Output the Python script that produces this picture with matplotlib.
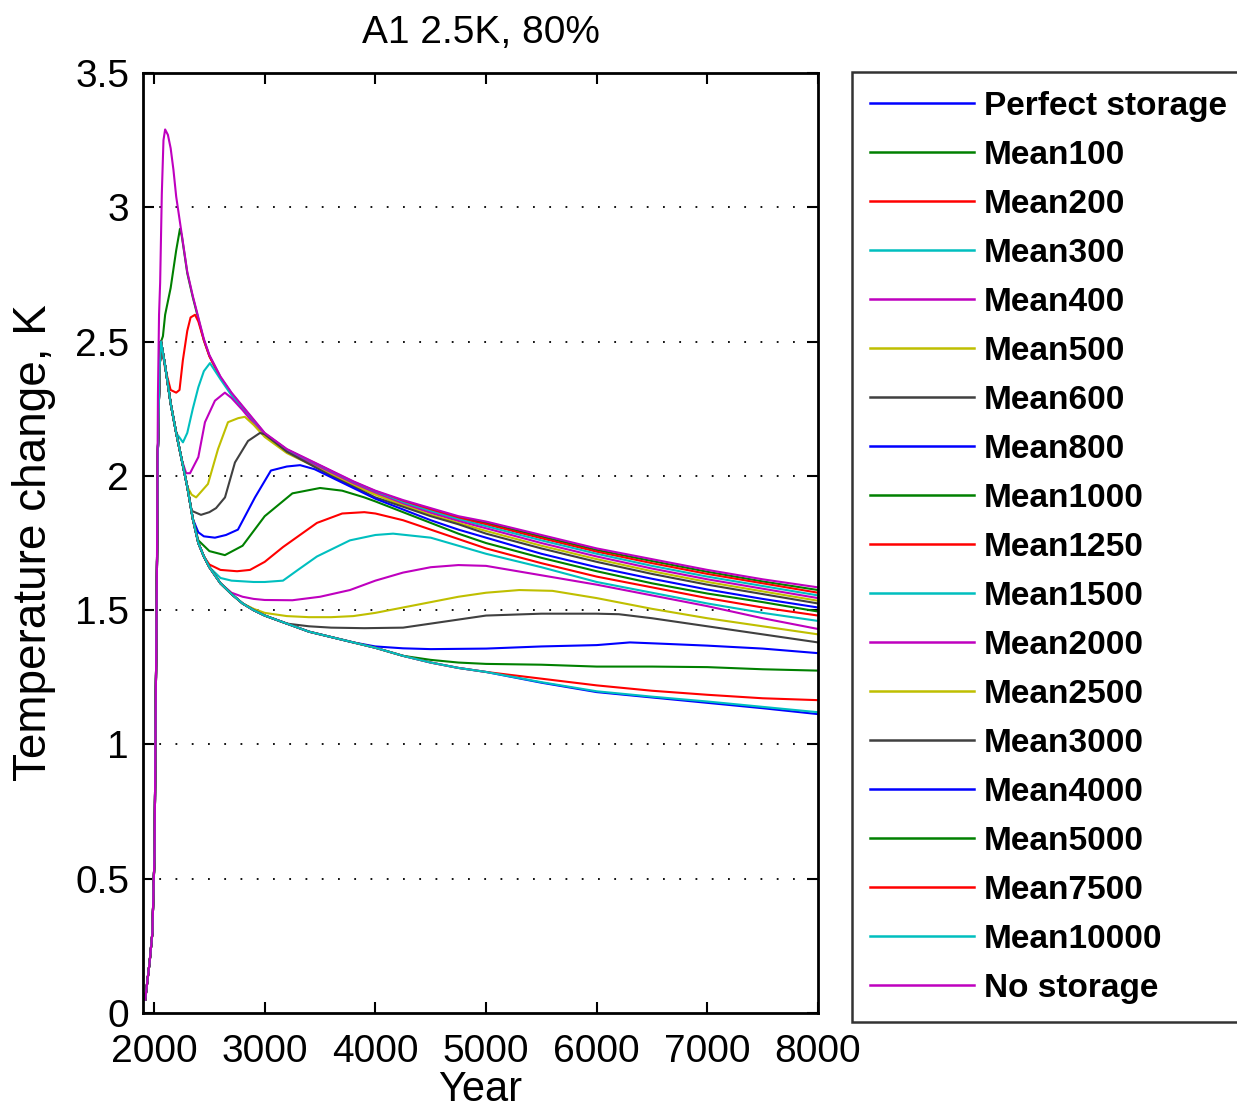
import matplotlib
matplotlib.use("Agg")
import matplotlib.pyplot as plt
from matplotlib.ticker import FuncFormatter

plt.rcParams['font.family'] = ['Liberation Sans', 'DejaVu Sans']

# ---- data (year, temperature change in K) ----
perfect_years = [1920, 1960, 1985, 1995, 2005, 2012, 2025, 2035, 2050, 2063, 2100, 2150, 2200, 2250, 2300,
                 2350, 2400, 2450, 2500, 2600, 2700, 2800, 2900, 3000, 3200, 3400, 3600, 3800, 4000, 4250,
                 4500, 4750, 5000, 5500, 6000, 6500, 7000, 7500, 8000]
perfect_temp = [0.05, 0.19, 0.30, 0.46, 0.60, 1.00, 1.60, 2.10, 2.40, 2.50, 2.41, 2.27, 2.16, 2.06, 1.96,
                1.84, 1.75, 1.70, 1.66, 1.60, 1.56, 1.525, 1.50, 1.48, 1.45, 1.42, 1.40, 1.38, 1.36, 1.33,
                1.305, 1.285, 1.27, 1.23, 1.195, 1.175, 1.155, 1.135, 1.113]

mean100_years = [1920, 1960, 1985, 1995, 2005, 2012, 2025, 2035, 2050, 2063, 2080, 2100, 2150, 2200, 2234,
                 2250, 2300, 2350, 2400, 2450, 2500, 2600, 2700, 2800, 2900, 3000, 3200, 3400, 3600, 3800,
                 4000, 4250, 4500, 4750, 5000, 5500, 6000, 6500, 7000, 7500, 8000]
mean100_temp = [0.05, 0.19, 0.30, 0.46, 0.60, 1.00, 1.60, 2.10, 2.40, 2.50, 2.52, 2.60, 2.70, 2.84, 2.92,
                2.895, 2.755, 2.665, 2.585, 2.505, 2.447, 2.367, 2.307, 2.257, 2.207, 2.158, 2.098, 2.058,
                2.018, 1.978, 1.943, 1.907, 1.877, 1.847, 1.825, 1.774, 1.724, 1.683, 1.643, 1.607, 1.575]

mean200_years = [1920, 1960, 1985, 1995, 2005, 2012, 2025, 2035, 2050, 2063, 2100, 2150, 2200, 2230, 2260,
                 2300, 2330, 2370, 2400, 2450, 2500, 2600, 2700, 2800, 2900, 3000, 3200, 3400, 3600, 3800,
                 4000, 4250, 4500, 4750, 5000, 5500, 6000, 6500, 7000, 7500, 8000]
mean200_temp = [0.05, 0.19, 0.30, 0.46, 0.60, 1.00, 1.60, 2.10, 2.40, 2.50, 2.40, 2.32, 2.31, 2.32, 2.43,
                2.54, 2.59, 2.60, 2.575, 2.505, 2.445, 2.365, 2.305, 2.255, 2.205, 2.157, 2.097, 2.056,
                2.016, 1.976, 1.941, 1.904, 1.873, 1.843, 1.82, 1.768, 1.718, 1.675, 1.635, 1.60, 1.565]

mean300_years = [1920, 1960, 1985, 1995, 2005, 2012, 2025, 2035, 2050, 2063, 2100, 2150, 2200, 2261, 2300,
                 2350, 2400, 2450, 2505, 2600, 2700, 2800, 2900, 3000, 3200, 3400, 3600, 3800, 4000, 4250,
                 4500, 4750, 5000, 5500, 6000, 6500, 7000, 7500, 8000]
mean300_temp = [0.05, 0.19, 0.30, 0.46, 0.60, 1.00, 1.60, 2.10, 2.40, 2.50, 2.41, 2.27, 2.16, 2.125, 2.16,
                2.25, 2.33, 2.39, 2.42, 2.36, 2.30, 2.25, 2.20, 2.155, 2.095, 2.053, 2.013, 1.973, 1.938,
                1.90, 1.868, 1.838, 1.813, 1.76, 1.71, 1.665, 1.625, 1.59, 1.555]

mean400_years = [1920, 1960, 1985, 1995, 2005, 2012, 2025, 2035, 2050, 2063, 2100, 2150, 2200, 2250, 2290,
                 2325, 2400, 2460, 2550, 2640, 2700, 2800, 2900, 3000, 3200, 3400, 3600, 3800, 4000, 4250,
                 4500, 4750, 5000, 5500, 6000, 6500, 7000, 7500, 8000]
mean400_temp = [0.05, 0.19, 0.30, 0.46, 0.60, 1.00, 1.60, 2.10, 2.40, 2.50, 2.41, 2.27, 2.16, 2.06, 2.01,
                2.01, 2.07, 2.20, 2.28, 2.31, 2.29, 2.245, 2.195, 2.15, 2.09, 2.05, 2.01, 1.97, 1.935,
                1.895, 1.862, 1.832, 1.805, 1.75, 1.70, 1.655, 1.615, 1.58, 1.545]

mean500_years = [1920, 1960, 1985, 1995, 2005, 2012, 2025, 2035, 2050, 2063, 2100, 2150, 2200, 2250, 2300,
                 2340, 2380, 2487, 2578, 2668, 2760, 2820, 2900, 3000, 3200, 3400, 3600, 3800, 4000, 4250,
                 4500, 4750, 5000, 5500, 6000, 6500, 7000, 7500, 8000]
mean500_temp = [0.05, 0.19, 0.30, 0.46, 0.60, 1.00, 1.60, 2.10, 2.40, 2.50, 2.41, 2.27, 2.16, 2.06, 1.96,
                1.93, 1.92, 1.97, 2.10, 2.20, 2.215, 2.22, 2.19, 2.145, 2.085, 2.045, 2.005, 1.965, 1.93,
                1.89, 1.855, 1.825, 1.795, 1.74, 1.69, 1.645, 1.605, 1.57, 1.535]

mean600_years = [1920, 1960, 1985, 1995, 2005, 2012, 2025, 2035, 2050, 2063, 2100, 2150, 2200, 2250, 2300,
                 2340, 2424, 2500, 2560, 2641, 2731, 2849, 2957, 3000, 3200, 3400, 3600, 3800, 4000, 4250,
                 4500, 4750, 5000, 5500, 6000, 6500, 7000, 7500, 8000]
mean600_temp = [0.05, 0.19, 0.30, 0.46, 0.60, 1.00, 1.60, 2.10, 2.40, 2.50, 2.41, 2.27, 2.16, 2.06, 1.96,
                1.87, 1.855, 1.865, 1.88, 1.92, 2.05, 2.13, 2.16, 2.155, 2.09, 2.045, 2.00, 1.96, 1.92,
                1.885, 1.85, 1.82, 1.785, 1.73, 1.68, 1.635, 1.595, 1.56, 1.525]

mean800_years = [1920, 1960, 1985, 1995, 2005, 2012, 2025, 2035, 2050, 2063, 2100, 2150, 2200, 2250, 2300,
                 2350, 2400, 2450, 2550, 2650, 2758, 2912, 3056, 3200, 3320, 3450, 3600, 3800, 4000, 4250,
                 4500, 4750, 5000, 5500, 6000, 6500, 7000, 7500, 8000]
mean800_temp = [0.05, 0.19, 0.30, 0.46, 0.60, 1.00, 1.60, 2.10, 2.40, 2.50, 2.41, 2.27, 2.16, 2.06, 1.96,
                1.84, 1.79, 1.775, 1.77, 1.78, 1.80, 1.92, 2.02, 2.035, 2.04, 2.025, 1.995, 1.955, 1.915,
                1.875, 1.835, 1.80, 1.77, 1.71, 1.66, 1.617, 1.577, 1.542, 1.51]

mean1000_years = [1920, 1960, 1985, 1995, 2005, 2012, 2025, 2035, 2050, 2063, 2100, 2150, 2200, 2250, 2300,
                  2350, 2400, 2500, 2640, 2800, 3000, 3250, 3500, 3700, 3900, 4000, 4250, 4500, 4750, 5000,
                  5500, 6000, 6500, 7000, 7500, 8000]
mean1000_temp = [0.05, 0.19, 0.30, 0.46, 0.60, 1.00, 1.60, 2.10, 2.40, 2.50, 2.41, 2.27, 2.16, 2.06, 1.96,
                 1.84, 1.76, 1.72, 1.705, 1.74, 1.85, 1.935, 1.955, 1.945, 1.92, 1.905, 1.865, 1.825, 1.785,
                 1.75, 1.695, 1.645, 1.60, 1.562, 1.53, 1.495]

mean1250_years = [1920, 1960, 1985, 1995, 2005, 2012, 2025, 2035, 2050, 2063, 2100, 2150, 2200, 2250, 2300,
                  2350, 2400, 2450, 2500, 2600, 2750, 2867, 3000, 3165, 3472, 3700, 3900, 4000, 4250, 4500,
                  4750, 5000, 5500, 6000, 6500, 7000, 7500, 8000]
mean1250_temp = [0.05, 0.19, 0.30, 0.46, 0.60, 1.00, 1.60, 2.10, 2.40, 2.50, 2.41, 2.27, 2.16, 2.06, 1.96,
                 1.84, 1.75, 1.70, 1.67, 1.65, 1.645, 1.65, 1.68, 1.735, 1.825, 1.86, 1.865, 1.86, 1.835,
                 1.80, 1.765, 1.73, 1.675, 1.625, 1.585, 1.545, 1.51, 1.48]

mean1500_years = [1920, 1960, 1985, 1995, 2005, 2012, 2025, 2035, 2050, 2063, 2100, 2150, 2200, 2250, 2300,
                  2350, 2400, 2450, 2500, 2600, 2700, 2900, 3000, 3165, 3300, 3472, 3770, 4000, 4160, 4500,
                  5000, 5500, 6000, 6500, 7000, 7500, 8000]
mean1500_temp = [0.05, 0.19, 0.30, 0.46, 0.60, 1.00, 1.60, 2.10, 2.40, 2.50, 2.41, 2.27, 2.16, 2.06, 1.96,
                 1.84, 1.75, 1.70, 1.66, 1.62, 1.61, 1.605, 1.605, 1.61, 1.65, 1.70, 1.76, 1.78, 1.785, 1.77,
                 1.71, 1.66, 1.605, 1.565, 1.525, 1.49, 1.46]

mean2000_years = [1920, 1960, 1985, 1995, 2005, 2012, 2025, 2035, 2050, 2063, 2100, 2150, 2200, 2250, 2300,
                  2350, 2400, 2450, 2500, 2600, 2700, 2800, 2900, 3000, 3250, 3500, 3770, 4000, 4250, 4500,
                  4750, 5000, 5500, 6000, 6500, 7000, 7500, 8000]
mean2000_temp = [0.05, 0.19, 0.30, 0.46, 0.60, 1.00, 1.60, 2.10, 2.40, 2.50, 2.41, 2.27, 2.16, 2.06, 1.96,
                 1.84, 1.75, 1.70, 1.66, 1.60, 1.565, 1.55, 1.542, 1.538, 1.537, 1.55, 1.575, 1.61, 1.64,
                 1.66, 1.668, 1.665, 1.63, 1.595, 1.555, 1.515, 1.47, 1.43]

mean2500_years = [1920, 1960, 1985, 1995, 2005, 2012, 2025, 2035, 2050, 2063, 2100, 2150, 2200, 2250, 2300,
                  2350, 2400, 2450, 2500, 2600, 2700, 2800, 2900, 3000, 3200, 3400, 3600, 3800, 4000, 4250,
                  4500, 4750, 5000, 5300, 5600, 6000, 6500, 7000, 7500, 8000]
mean2500_temp = [0.05, 0.19, 0.30, 0.46, 0.60, 1.00, 1.60, 2.10, 2.40, 2.50, 2.41, 2.27, 2.16, 2.06, 1.96,
                 1.84, 1.75, 1.70, 1.66, 1.60, 1.56, 1.525, 1.505, 1.49, 1.478, 1.474, 1.474, 1.478, 1.49,
                 1.51, 1.53, 1.55, 1.565, 1.575, 1.572, 1.545, 1.505, 1.47, 1.44, 1.41]

mean3000_years = [1920, 1960, 1985, 1995, 2005, 2012, 2025, 2035, 2050, 2063, 2100, 2150, 2200, 2250, 2300,
                  2350, 2400, 2450, 2500, 2600, 2700, 2800, 2900, 3000, 3200, 3400, 3600, 3900, 4250, 4500,
                  5000, 5500, 6000, 6200, 6500, 7000, 7500, 8000]
mean3000_temp = [0.05, 0.19, 0.30, 0.46, 0.60, 1.00, 1.60, 2.10, 2.40, 2.50, 2.41, 2.27, 2.16, 2.06, 1.96,
                 1.84, 1.75, 1.70, 1.66, 1.60, 1.56, 1.525, 1.50, 1.48, 1.45, 1.44, 1.435, 1.433, 1.435,
                 1.45, 1.48, 1.487, 1.487, 1.485, 1.47, 1.44, 1.41, 1.38]

mean4000_years = [1920, 1960, 1985, 1995, 2005, 2012, 2025, 2035, 2050, 2063, 2100, 2150, 2200, 2250, 2300,
                  2350, 2400, 2450, 2500, 2600, 2700, 2800, 2900, 3000, 3200, 3400, 3600, 3800, 4000, 4250,
                  4500, 5000, 5500, 6000, 6300, 6600, 7000, 7500, 8000]
mean4000_temp = [0.05, 0.19, 0.30, 0.46, 0.60, 1.00, 1.60, 2.10, 2.40, 2.50, 2.41, 2.27, 2.16, 2.06, 1.96,
                 1.84, 1.75, 1.70, 1.66, 1.60, 1.56, 1.525, 1.50, 1.48, 1.45, 1.42, 1.40, 1.38, 1.365,
                 1.358, 1.355, 1.357, 1.365, 1.37, 1.38, 1.375, 1.368, 1.357, 1.34]

mean5000_years = [1920, 1960, 1985, 1995, 2005, 2012, 2025, 2035, 2050, 2063, 2100, 2150, 2200, 2250, 2300,
                  2350, 2400, 2450, 2500, 2600, 2700, 2800, 2900, 3000, 3200, 3400, 3600, 3800, 4000, 4250,
                  4500, 4750, 5000, 5500, 6000, 6500, 7000, 7500, 8000]
mean5000_temp = [0.05, 0.19, 0.30, 0.46, 0.60, 1.00, 1.60, 2.10, 2.40, 2.50, 2.41, 2.27, 2.16, 2.06, 1.96,
                 1.84, 1.75, 1.70, 1.66, 1.60, 1.56, 1.525, 1.50, 1.48, 1.45, 1.42, 1.40, 1.38, 1.36, 1.33,
                 1.315, 1.305, 1.30, 1.297, 1.29, 1.29, 1.288, 1.28, 1.275]

mean7500_years = [1920, 1960, 1985, 1995, 2005, 2012, 2025, 2035, 2050, 2063, 2100, 2150, 2200, 2250, 2300,
                  2350, 2400, 2450, 2500, 2600, 2700, 2800, 2900, 3000, 3200, 3400, 3600, 3800, 4000, 4250,
                  4500, 4750, 5000, 5500, 6000, 6500, 7000, 7500, 8000]
mean7500_temp = [0.05, 0.19, 0.30, 0.46, 0.60, 1.00, 1.60, 2.10, 2.40, 2.50, 2.41, 2.27, 2.16, 2.06, 1.96,
                 1.84, 1.75, 1.70, 1.66, 1.60, 1.56, 1.525, 1.50, 1.48, 1.45, 1.42, 1.40, 1.38, 1.36, 1.33,
                 1.305, 1.285, 1.27, 1.245, 1.22, 1.20, 1.185, 1.172, 1.165]

mean10000_years = [1920, 1960, 1985, 1995, 2005, 2012, 2025, 2035, 2050, 2063, 2100, 2150, 2200, 2250, 2300,
                   2350, 2400, 2450, 2500, 2600, 2700, 2800, 2900, 3000, 3200, 3400, 3600, 3800, 4000, 4250,
                   4500, 4750, 5000, 5500, 6000, 6500, 7000, 7500, 8000]
mean10000_temp = [0.05, 0.19, 0.30, 0.46, 0.60, 1.00, 1.60, 2.10, 2.40, 2.50, 2.41, 2.27, 2.16, 2.06, 1.96,
                  1.84, 1.75, 1.70, 1.66, 1.60, 1.56, 1.525, 1.50, 1.48, 1.45, 1.42, 1.40, 1.38, 1.36, 1.33,
                  1.305, 1.285, 1.27, 1.232, 1.198, 1.178, 1.16, 1.14, 1.12]

nostorage_years = [1920, 1960, 1985, 1995, 2005, 2012, 2025, 2035, 2045, 2055, 2070, 2085, 2100, 2125, 2150,
                   2175, 2200, 2250, 2300, 2350, 2400, 2450, 2500, 2600, 2700, 2800, 2900, 3000, 3200, 3400,
                   3600, 3800, 4000, 4250, 4500, 4750, 5000, 5500, 6000, 6500, 7000, 7500, 8000]
nostorage_temp = [0.05, 0.19, 0.30, 0.46, 0.60, 1.00, 1.60, 2.30, 2.60, 2.72, 3.05, 3.25, 3.29, 3.27, 3.22,
                  3.14, 3.04, 2.90, 2.76, 2.67, 2.59, 2.51, 2.45, 2.37, 2.31, 2.26, 2.21, 2.16, 2.10, 2.06,
                  2.02, 1.98, 1.945, 1.91, 1.88, 1.85, 1.83, 1.78, 1.73, 1.69, 1.65, 1.615, 1.585]

labels = ['Perfect storage', 'Mean100', 'Mean200', 'Mean300', 'Mean400', 'Mean500', 'Mean600',
          'Mean800', 'Mean1000', 'Mean1250', 'Mean1500', 'Mean2000', 'Mean2500', 'Mean3000',
          'Mean4000', 'Mean5000', 'Mean7500', 'Mean10000', 'No storage']

series = [
    (perfect_years, perfect_temp), (mean100_years, mean100_temp), (mean200_years, mean200_temp),
    (mean300_years, mean300_temp), (mean400_years, mean400_temp), (mean500_years, mean500_temp),
    (mean600_years, mean600_temp), (mean800_years, mean800_temp), (mean1000_years, mean1000_temp),
    (mean1250_years, mean1250_temp), (mean1500_years, mean1500_temp), (mean2000_years, mean2000_temp),
    (mean2500_years, mean2500_temp), (mean3000_years, mean3000_temp), (mean4000_years, mean4000_temp),
    (mean5000_years, mean5000_temp), (mean7500_years, mean7500_temp), (mean10000_years, mean10000_temp),
    (nostorage_years, nostorage_temp),
]

# old MATLAB colour order: b g r c m y k
matlab_colors = ['#0000ff', '#008000', '#ff0000', '#00bfbf', '#bf00bf', '#bfbf00', '#404040']

fig = plt.figure(figsize=(12.37, 11.12), dpi=100)
ax = fig.add_axes([0.1156, 0.089, 0.5457, 0.8453])

for i, (yrs, temps) in enumerate(series):
    ax.plot(yrs, temps, color=matlab_colors[i % 7], linewidth=1.5, label=labels[i])

ax.set_xlim(1900, 8000)
ax.set_ylim(0, 3.5)
ax.set_xticks([2000, 3000, 4000, 5000, 6000, 7000, 8000])
ax.set_yticks([0, 0.5, 1, 1.5, 2, 2.5, 3, 3.5])
ax.yaxis.set_major_formatter(FuncFormatter(lambda v, p: ('%g' % v)))

# horizontal dotted grid only
for yv in [0.5, 1, 1.5, 2, 2.5, 3]:
    ax.axhline(yv, color='black', linestyle=(0, (1, 8)), linewidth=1.3, zorder=0)

ax.tick_params(direction='in', length=8, width=1.5, top=True, right=True, labelsize=28)
ax.tick_params(axis='x', pad=15)
ax.tick_params(axis='y', pad=10)
for sp in ax.spines.values():
    sp.set_linewidth(2)

ax.set_title('A1 2.5K, 80%', fontsize=28, pad=22)
ax.set_xlabel('Year', fontsize=30, labelpad=0)
ax.set_ylabel('Temperature change, K', fontsize=33, labelpad=14)

leg = fig.legend(loc='upper left', bbox_to_anchor=(0.6888, 0.935),
                 prop={'weight': 'bold', 'size': 24}, frameon=True, fancybox=False,
                 edgecolor='black', handlelength=3.1, handletextpad=0.3, labelspacing=0.54,
                 borderpad=0.55, borderaxespad=0)
leg.get_frame().set_linewidth(1.8)
for ln in leg.get_lines():
    ln.set_linewidth(1.8)

fig.savefig('out.png', dpi=100)
